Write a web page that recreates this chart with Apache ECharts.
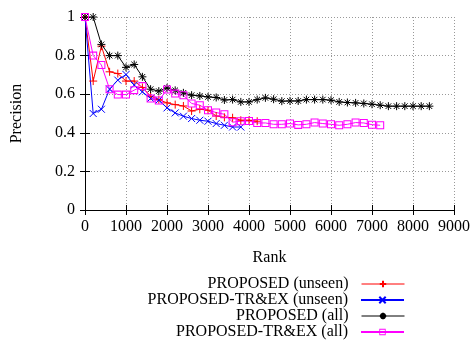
<!DOCTYPE html>
<html>
<head>
<meta charset="utf-8">
<script src="https://cdn.jsdelivr.net/npm/echarts@6/dist/echarts.min.js"></script>
<style>
  html, body { margin: 0; padding: 0; background: #fff; }
  #chart { width: 474px; height: 340px; }
</style>
</head>
<body>
<div id="chart"></div>
<script>
// ranks sampled every 200
const ranks = [0, 200, 400, 600, 800, 1000, 1200, 1400, 1600, 1800,
  2000, 2200, 2400, 2600, 2800, 3000, 3200, 3400, 3600, 3800,
  4000, 4200, 4400, 4600, 4800, 5000, 5200, 5400, 5600, 5800,
  6000, 6200, 6400, 6600, 6800, 7000, 7200, 7400, 7600, 7800,
  8000, 8200, 8400];

const seriesNames = ["PROPOSED (unseen)", "PROPOSED-TR&EX (unseen)", "PROPOSED (all)", "PROPOSED-TR&EX (all)"];

const proposedUnseen = [1.0, 0.668, 0.849, 0.716, 0.707, 0.668, 0.668, 0.635, 0.59, 0.572,
  0.555, 0.546, 0.539, 0.513, 0.522, 0.517, 0.487, 0.48, 0.478, 0.465,
  0.465, 0.46];
const trexUnseen = [1.0, 0.50, 0.522, 0.626, 0.673, 0.702, 0.647, 0.612, 0.578, 0.569,
  0.529, 0.503, 0.486, 0.474, 0.465, 0.46, 0.448, 0.439, 0.43, 0.43];
const proposedAll = [1.0, 1.0, 0.858, 0.80, 0.80, 0.739, 0.754, 0.69, 0.626, 0.616,
  0.633, 0.62, 0.607, 0.595, 0.591, 0.586, 0.583, 0.570, 0.572, 0.56,
  0.56, 0.572, 0.581, 0.574, 0.564, 0.565, 0.565, 0.572, 0.572, 0.572,
  0.569, 0.56, 0.557, 0.555, 0.552, 0.548, 0.543, 0.538, 0.538, 0.538,
  0.538, 0.538, 0.538];
const trexAll = [1.0, 0.80, 0.751, 0.626, 0.598, 0.598, 0.621, 0.642, 0.578, 0.567,
  0.624, 0.603, 0.595, 0.552, 0.543, 0.517, 0.505, 0.496, 0.455, 0.46,
  0.461, 0.451, 0.451, 0.444, 0.444, 0.448, 0.441, 0.444, 0.453, 0.448,
  0.444, 0.439, 0.444, 0.453, 0.451, 0.442, 0.439];

const font = "Liberation Serif";

function pairs(vals) {
  return vals.map((v, i) => [ranks[i], v]);
}

// gnuplot style point types
const plusPath = "path://M5,0L5,10M0,5L10,5";
const crossPath = "path://M0,0L10,10M10,0L0,10";
const starPath = "path://M5,0L5,10M0,5L10,5M1.5,1.5L8.5,8.5M8.5,1.5L1.5,8.5";
const squarePath = "path://M0,0L10,0L10,10L0,10ZM1.3,1.3L1.3,8.7L8.7,8.7L8.7,1.3Z";

function makeSeries(name, vals, color, symbol, size) {
  return {
    name: name,
    type: "line",
    data: pairs(vals),
    symbol: symbol,
    symbolSize: size,
    showAllSymbol: true,
    lineStyle: { color: color, width: 1 },
    itemStyle: { color: color, borderColor: color, borderWidth: symbol === squarePath ? 0 : 1 },
  };
}

const chart = echarts.init(document.getElementById("chart"));

const legendTops = [276, 292, 308, 324];
const legendLineWidths = [1, 2, 1, 2];
const legends = seriesNames.map((n, i) => ({
  data: [n],
  right: 69,
  top: legendTops[i],
  padding: 0,
  align: "right",
  itemWidth: 43,
  itemHeight: 8,
  selectedMode: false,
  lineStyle: { width: legendLineWidths[i] },
  textStyle: { fontFamily: font, fontSize: 16, color: "#000", padding: [0, 8, 0, 0] },
}));

const gridLine = { show: true, lineStyle: { color: "#999", type: [1, 2], width: 1 } };
const axisLine = { show: true, lineStyle: { color: "#000", width: 1 } };
const tick = { show: true, inside: true, length: 5, lineStyle: { color: "#000" } };

chart.setOption({
  animation: false,
  backgroundColor: "#fff",
  textStyle: { fontFamily: font },
  legend: legends,
  grid: { left: 85, right: 20, top: 17, bottom: 130 },
  xAxis: [
    {
      type: "value",
      min: 0,
      max: 9000,
      interval: 1000,
      name: "Rank",
      nameLocation: "middle",
      nameGap: 40,
      nameTextStyle: { fontFamily: font, fontSize: 16, color: "#000" },
      axisLine: axisLine,
      axisTick: tick,
      axisLabel: { fontFamily: font, fontSize: 16, color: "#000", margin: 9, formatter: (v) => String(v) },
      splitLine: gridLine,
    },
    {
      type: "value",
      position: "top",
      min: 0,
      max: 9000,
      interval: 1000,
      axisLine: axisLine,
      axisTick: tick,
      axisLabel: { show: false },
      splitLine: { show: false },
    },
  ],
  yAxis: [
    {
      type: "value",
      min: 0,
      max: 1,
      interval: 0.2,
      name: "Precision",
      nameLocation: "middle",
      nameGap: 60,
      nameRotate: 90,
      nameTextStyle: { fontFamily: font, fontSize: 16, color: "#000" },
      axisLine: axisLine,
      axisTick: tick,
      axisLabel: { fontFamily: font, fontSize: 16, color: "#000", margin: 10 },
      splitLine: gridLine,
    },
    {
      type: "value",
      position: "right",
      min: 0,
      max: 1,
      interval: 0.2,
      axisLine: axisLine,
      axisTick: tick,
      axisLabel: { show: false },
      splitLine: { show: false },
    },
  ],
  series: [
    makeSeries(seriesNames[0], proposedUnseen, "#ff0000", plusPath, 8),
    makeSeries(seriesNames[1], trexUnseen, "#0000ff", crossPath, 7),
    makeSeries(seriesNames[2], proposedAll, "#000000", starPath, 8),
    makeSeries(seriesNames[3], trexAll, "#ff00ff", squarePath, 8),
  ],
});
</script>
</body>
</html>
